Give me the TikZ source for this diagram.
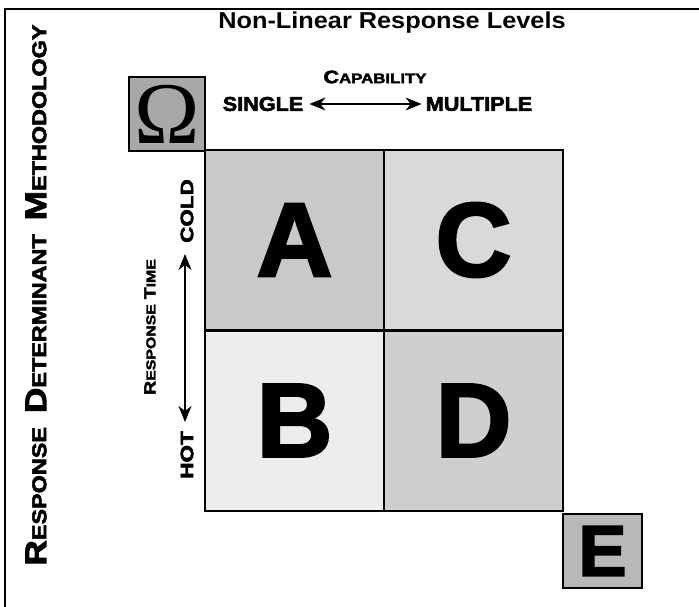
\documentclass[tikz,border=0pt]{standalone}
\usepackage{fontspec}
\setmainfont{Liberation Sans}
\newfontfamily\heavy[FakeBold=2.5]{Liberation Sans Bold}
\newfontfamily\omfont{Liberation Serif}
\usetikzlibrary{arrows.meta}
\newcommand\fsz[2]{{\fontsize{#1}{#1}\selectfont #2}}
\definecolor{cellA}{gray}{0.79}
\definecolor{cellB}{gray}{0.93}
\definecolor{cellC}{gray}{0.85}
\definecolor{cellD}{gray}{0.81}
\definecolor{omfill}{gray}{0.66}
\definecolor{efill}{gray}{0.72}
\tikzset{
  cell/.style={draw=black, line width=2pt, minimum width=179pt, minimum height=180pt, inner sep=0pt,
    font=\heavy\fontsize{105}{105}\selectfont},
  corner/.style={draw=black, line width=2.5pt, inner sep=0pt},
  lbl/.style={font=\heavy, inner sep=0pt},
  dbl/.style={line width=1.8pt, {Stealth[length=16pt,width=13pt,inset=5pt]}-{Stealth[length=16pt,width=13pt,inset=5pt]}},
}
\begin{document}
\begin{tikzpicture}[x=1pt,y=-1pt]
\useasboundingbox (0,0) rectangle (699,607);
% frame
\coordinate (ftl) at (5,9);
\coordinate (ftr) at (699,9);
\coordinate (fbl) at (5,607);
\draw[line width=2pt] (ftr) -- (ftl) -- (fbl);
% title
\node[font=\bfseries, inner sep=0pt] (title) at (392,23) {\scalebox{1.1}[1]{\fsz{23}{Non-Linear Response Levels}}};
% vertical label
\node[lbl, rotate=90] (rdm) at (36,295) {\scalebox{1.17}[1]{\fsz{30}{R}\fsz{20}{ESPONSE}\hspace{12pt}\fsz{30}{D}\fsz{20}{ETERMINANT}\hspace{12pt}\fsz{30}{M}\fsz{20}{ETHODOLOGY}}};
% cells
\node[cell, fill=cellA] (A) at (294.5,240) {A};
\node[cell, fill=cellC] (C) at (473.5,240) {C};
\node[cell, fill=cellB] (B) at (294.5,420.5) {B};
\node[cell, fill=cellD] (D) at (473.5,420.5) {D};
% corner boxes
\node[corner, fill=omfill, minimum width=76pt, minimum height=74pt, font=\omfont\fontsize{88}{88}\selectfont] (om) at (167,114) {Ω};
\node[corner, fill=efill, minimum width=79pt, minimum height=74pt, font=\heavy\fontsize{72}{72}\selectfont] (E) at (602.5,551) {E};
% capability
\node[lbl] (cap) at (375,77) {\scalebox{1.2}[1]{\fsz{18}{C}\fsz{14}{APABILITY}}};
\node[lbl] (single) at (263,104) {\scalebox{1.08}[1]{\fsz{20}{SINGLE}}};
\node[lbl] (multiple) at (479,104) {\scalebox{1.08}[1]{\fsz{20}{MULTIPLE}}};
\draw[dbl] ([xshift=6pt]single.east) -- ([xshift=-4pt]multiple.west);
% response time
\node[lbl, rotate=90] (rt) at (150,327) {\scalebox{1.22}[1]{\fsz{16}{R}\fsz{13}{ESPONSE}\hspace{4pt}\fsz{16}{T}\fsz{13}{IME}}};
\node[lbl, rotate=90] (cold) at (187,211) {\scalebox{1.25}[1]{\fsz{18}{COLD}}};
\node[lbl, rotate=90] (hot) at (187,455) {\scalebox{1.25}[1]{\fsz{18}{HOT}}};
\coordinate (rtTop) at (185,254);
\coordinate (rtBot) at (185,422);
\draw[dbl] (rtTop) -- (rtBot);
\end{tikzpicture}
\end{document}
